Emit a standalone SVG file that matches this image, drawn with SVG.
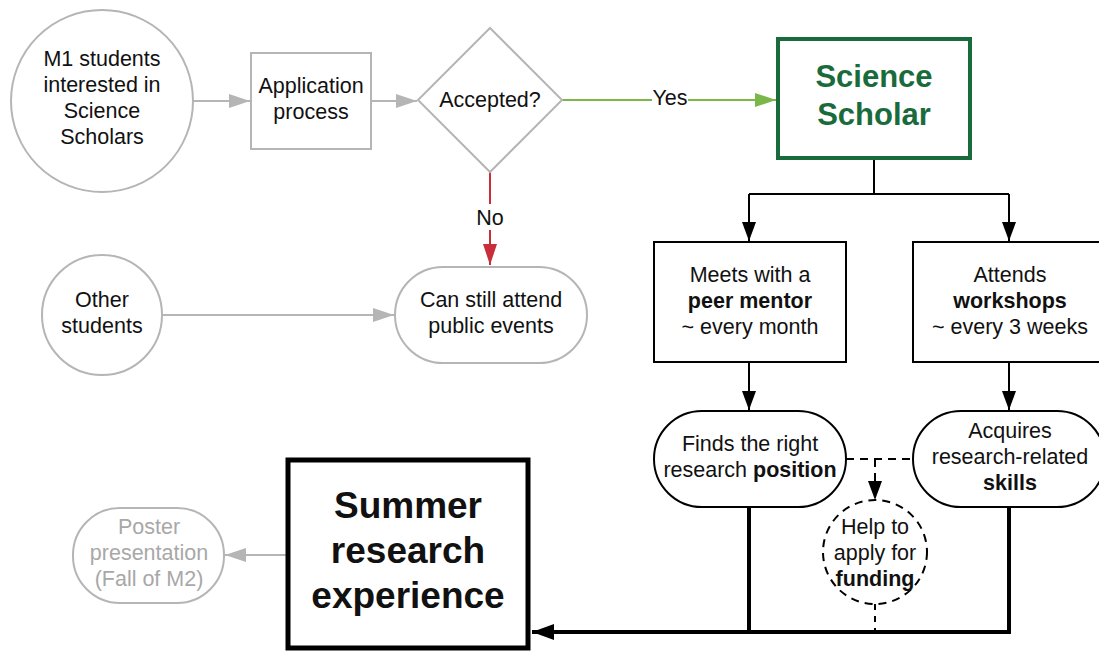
<svg xmlns="http://www.w3.org/2000/svg" width="1099" height="651" viewBox="0 0 1099 651">
<style>
text{font-family:"Liberation Sans",Arial,sans-serif;font-size:21.5px;fill:#111;text-anchor:middle}
.b{font-weight:bold}
.g{fill:none;stroke:#b5b5b5;stroke-width:2}
.k{fill:#fff;stroke:#000;stroke-width:2}
.gt{fill:#a8a8a8}
</style>
<defs>
<marker id="ag" markerUnits="userSpaceOnUse" markerWidth="22" markerHeight="16" refX="21" refY="7" orient="auto"><path d="M0,0 L21,7 L0,14 z" fill="#b5b5b5"/></marker>
<marker id="agr" markerUnits="userSpaceOnUse" markerWidth="22" markerHeight="16" refX="21" refY="7" orient="auto"><path d="M0,0 L21,7 L0,14 z" fill="#7ab648"/></marker>
<marker id="ar" markerUnits="userSpaceOnUse" markerWidth="22" markerHeight="16" refX="21" refY="7" orient="auto"><path d="M0,0 L21,7 L0,14 z" fill="#c92d39"/></marker>
<marker id="ak" markerUnits="userSpaceOnUse" markerWidth="22" markerHeight="16" refX="19" refY="7" orient="auto"><path d="M0,0 L19,7 L0,14 z" fill="#000"/></marker>
<marker id="akb" markerUnits="userSpaceOnUse" markerWidth="24" markerHeight="18" refX="22" refY="8" orient="auto"><path d="M0,0 L22,8 L0,16 z" fill="#000"/></marker>
</defs>

<g id="connectors">
<path d="M193,101 H250" class="g" marker-end="url(#ag)"/>
<path d="M371,101 H417" class="g" marker-end="url(#ag)"/>
<path d="M562,100 H776" fill="none" stroke="#7ab648" stroke-width="2" marker-end="url(#agr)"/>
<rect x="652" y="86" width="36" height="24" fill="#fff"/>
<text x="670" y="105">Yes</text>
<path d="M490,172 V265" fill="none" stroke="#c92d39" stroke-width="2" marker-end="url(#ar)"/>
<rect x="474" y="204" width="32" height="26" fill="#fff"/>
<text x="490" y="225">No</text>
<path d="M162,315 H394" class="g" marker-end="url(#ag)"/>
<path d="M874,160 V194 M749,194 H1009" fill="none" stroke="#000" stroke-width="2"/>
<path d="M749,194 V241" fill="none" stroke="#000" stroke-width="2" marker-end="url(#ak)"/>
<path d="M1009,194 V241" fill="none" stroke="#000" stroke-width="2" marker-end="url(#ak)"/>
<path d="M749,362 V410" fill="none" stroke="#000" stroke-width="2" marker-end="url(#ak)"/>
<path d="M1009,362 V410" fill="none" stroke="#000" stroke-width="2" marker-end="url(#ak)"/>
<path d="M846,459 H913" fill="none" stroke="#000" stroke-width="2" stroke-dasharray="8,6"/>
<path d="M875,459 V500" fill="none" stroke="#000" stroke-width="2" stroke-dasharray="8,6" marker-end="url(#ak)"/>
<path d="M875,604 V632" fill="none" stroke="#000" stroke-width="2" stroke-dasharray="6,6"/>
<path d="M749,507 V632 M1009,507 V632" fill="none" stroke="#000" stroke-width="4"/>
<path d="M1011,632 H532" fill="none" stroke="#000" stroke-width="4" marker-end="url(#akb)"/>
<path d="M288,555 H225" class="g" marker-end="url(#ag)"/>
</g>

<g id="m1">
<circle cx="102" cy="101" r="91" class="g" fill="#fff"/>
<text x="102" y="66">M1 students</text>
<text x="102" y="92">interested in</text>
<text x="102" y="118">Science</text>
<text x="102" y="144">Scholars</text>
</g>
<g id="application">
<rect x="251" y="53" width="120" height="96" class="g" fill="#fff"/>
<text x="311" y="93">Application</text>
<text x="311" y="119">process</text>
</g>
<g id="accepted">
<path d="M490,28 L562,100 L490,172 L418,100 z" class="g" fill="#fff"/>
<text x="490" y="107">Accepted?</text>
</g>
<g id="scholar">
<rect x="778" y="39" width="192" height="119" fill="#fff" stroke="#1a6b3c" stroke-width="4"/>
<text x="874" y="87" class="b" style="font-size:31px;fill:#1a6b3c">Science</text>
<text x="874" y="125" class="b" style="font-size:31px;fill:#1a6b3c">Scholar</text>
</g>
<g id="other">
<circle cx="102" cy="315" r="60" class="g" fill="#fff"/>
<text x="102" y="307">Other</text>
<text x="102" y="333">students</text>
</g>
<g id="public">
<rect x="395" y="267" width="192" height="96" rx="48" class="g" fill="#fff"/>
<text x="491" y="307">Can still attend</text>
<text x="491" y="333">public events</text>
</g>
<g id="mentor">
<rect x="654" y="242" width="192" height="120" class="k"/>
<text x="750" y="282">Meets with a</text>
<text x="750" y="308" class="b">peer mentor</text>
<text x="750" y="334">~ every month</text>
</g>
<g id="workshops">
<rect x="913" y="242" width="192" height="120" class="k"/>
<text x="1010" y="282">Attends</text>
<text x="1010" y="308" class="b">workshops</text>
<text x="1010" y="334">~ every 3 weeks</text>
</g>
<g id="position">
<rect x="654" y="411" width="192" height="96" rx="48" class="k"/>
<text x="750" y="451">Finds the right</text>
<text x="750" y="477">research <tspan class="b">position</tspan></text>
</g>
<g id="skills">
<rect x="913" y="411" width="192" height="96" rx="48" class="k"/>
<text x="1010" y="438">Acquires</text>
<text x="1010" y="464">research-related</text>
<text x="1010" y="490" class="b">skills</text>
</g>
<g id="funding">
<circle cx="875" cy="552" r="52" fill="#fff" stroke="#000" stroke-width="2" stroke-dasharray="8,6"/>
<text x="875" y="534">Help to</text>
<text x="875" y="560">apply for</text>
<text x="875" y="586" class="b">funding</text>
</g>
<g id="summer">
<rect x="288" y="460" width="240" height="188" fill="#fff" stroke="#000" stroke-width="5"/>
<text x="408" y="518" class="b" style="font-size:37px">Summer</text>
<text x="408" y="563" class="b" style="font-size:37px">research</text>
<text x="408" y="608" class="b" style="font-size:37px">experience</text>
</g>
<g id="poster">
<rect x="73" y="508" width="151" height="95" rx="47" class="g" fill="#fff"/>
<text x="149" y="534" class="gt">Poster</text>
<text x="149" y="560" class="gt">presentation</text>
<text x="149" y="586" class="gt">(Fall of M2)</text>
</g>
</svg>
